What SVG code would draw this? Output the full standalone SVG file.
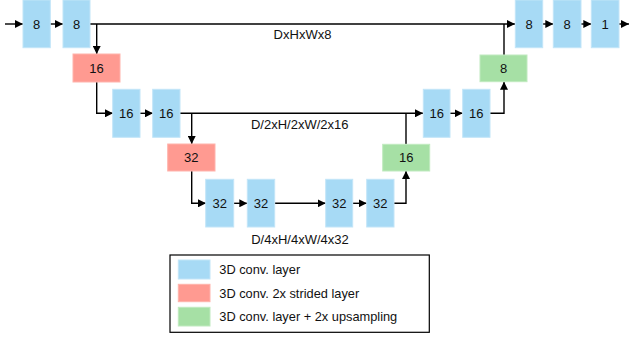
<svg xmlns="http://www.w3.org/2000/svg" width="629" height="338" viewBox="0 0 629 338">
<defs>
<marker id="ah" viewBox="0 0 8 8" refX="8" refY="4" markerWidth="8" markerHeight="8" markerUnits="userSpaceOnUse" orient="auto">
<path d="M0,0 L8,4 L0,8 z" fill="#000"/>
</marker>
</defs>
<style>
.b{fill:#A7DAF5;stroke:#C2E5F8;stroke-width:1}
.r{fill:#FF9A91;stroke:#FFB3AC;stroke-width:1}
.g{fill:#A6E0A5;stroke:#C0EABF;stroke-width:1}
.t{font-family:"Liberation Sans",Arial,sans-serif;font-size:13px;fill:#111;text-anchor:middle}
.l{font-family:"Liberation Sans",Arial,sans-serif;font-size:12.8px;fill:#111}
.c{fill:none;stroke:#000;stroke-width:1.4}
</style>
<rect width="629" height="338" fill="#fff"/>
<g id="connectors">
<path class="c" d="M5,24 H23" marker-end="url(#ah)"/>
<path class="c" d="M50,24 H63" marker-end="url(#ah)"/>
<path class="c" d="M90,24 H515" marker-end="url(#ah)"/>
<path class="c" d="M96.7,24 V54" marker-end="url(#ah)"/>
<path class="c" d="M96.7,82 V113.3 H113" marker-end="url(#ah)"/>
<path class="c" d="M140,113.3 H153" marker-end="url(#ah)"/>
<path class="c" d="M180,113.3 H423" marker-end="url(#ah)"/>
<path class="c" d="M191.7,113.3 V144" marker-end="url(#ah)"/>
<path class="c" d="M191.7,171 V203.3 H206" marker-end="url(#ah)"/>
<path class="c" d="M233.7,203.3 H247.3" marker-end="url(#ah)"/>
<path class="c" d="M274.7,203.3 H325.7" marker-end="url(#ah)"/>
<path class="c" d="M352.7,203.3 H366.7" marker-end="url(#ah)"/>
<path class="c" d="M394,203.3 H406 V171" marker-end="url(#ah)"/>
<path class="c" d="M406,144.3 V113.3"/>
<path class="c" d="M450,113.3 H462.7" marker-end="url(#ah)"/>
<path class="c" d="M490,113.3 H504 V81.7" marker-end="url(#ah)"/>
<path class="c" d="M504,55 V24"/>
<path class="c" d="M542.7,24 H553.3" marker-end="url(#ah)"/>
<path class="c" d="M581,24 H591.3" marker-end="url(#ah)"/>
<path class="c" d="M619,24 H629" marker-end="url(#ah)"/>
</g>
<g id="labels">
<text class="t" x="302.5" y="38.5">DxHxWx8</text>
<text class="t" x="299.7" y="128.5">D/2xH/2xW/2x16</text>
<text class="t" x="300" y="243.5">D/4xH/4xW/4x32</text>
</g>
<g id="n1"><rect class="b" x="23" y="0" width="27.3" height="47.7"/><text class="t" x="36.7" y="28.5">8</text></g>
<g id="n2"><rect class="b" x="63" y="0" width="27" height="47.7"/><text class="t" x="76.5" y="28.5">8</text></g>
<g id="n3"><rect class="r" x="73" y="54" width="47" height="28"/><text class="t" x="96.5" y="72.5">16</text></g>
<g id="n4"><rect class="b" x="112.7" y="89.3" width="27.3" height="48"/><text class="t" x="126.3" y="118">16</text></g>
<g id="n5"><rect class="b" x="152.7" y="89.3" width="27.3" height="48"/><text class="t" x="166.3" y="118">16</text></g>
<g id="n6"><rect class="r" x="167.7" y="144" width="47.3" height="27"/><text class="t" x="191.3" y="162">32</text></g>
<g id="n7"><rect class="b" x="205.7" y="179.3" width="28" height="47.7"/><text class="t" x="219.7" y="208">32</text></g>
<g id="n8"><rect class="b" x="247.3" y="179.3" width="27.4" height="47.7"/><text class="t" x="261" y="208">32</text></g>
<g id="n9"><rect class="b" x="325.7" y="179.3" width="27" height="47.7"/><text class="t" x="339.2" y="208">32</text></g>
<g id="n10"><rect class="b" x="366.7" y="179.3" width="27.3" height="47.7"/><text class="t" x="380.3" y="208">32</text></g>
<g id="n11"><rect class="g" x="382.7" y="144.3" width="47" height="26.7"/><text class="t" x="406.2" y="162">16</text></g>
<g id="n12"><rect class="b" x="423.3" y="89.3" width="26.7" height="48"/><text class="t" x="436.7" y="118">16</text></g>
<g id="n13"><rect class="b" x="462.7" y="89.3" width="27.3" height="48"/><text class="t" x="476.3" y="118">16</text></g>
<g id="n14"><rect class="g" x="480" y="55" width="47" height="26.7"/><text class="t" x="503.5" y="72.5">8</text></g>
<g id="n15"><rect class="b" x="515.3" y="0" width="27.4" height="47.7"/><text class="t" x="529" y="28.5">8</text></g>
<g id="n16"><rect class="b" x="553.3" y="0" width="27.7" height="47.7"/><text class="t" x="567.2" y="28.5">8</text></g>
<g id="n17"><rect class="b" x="591.3" y="0" width="27.7" height="47.7"/><text class="t" x="605.2" y="28.5">1</text></g>
<g id="legend">
<rect x="170" y="255" width="259.3" height="77.3" fill="#fff" stroke="#000" stroke-width="1.2"/>
<rect class="b" x="178.3" y="260" width="31.7" height="19"/>
<rect class="r" x="178.3" y="284.3" width="31.7" height="17.4"/>
<rect class="g" x="178.3" y="307.3" width="31.7" height="18.7"/>
<text class="l" x="219.3" y="274.3">3D conv. layer</text>
<text class="l" x="219.3" y="298">3D conv. 2x strided layer</text>
<text class="l" x="219.3" y="321">3D conv. layer + 2x upsampling</text>
</g>
</svg>
